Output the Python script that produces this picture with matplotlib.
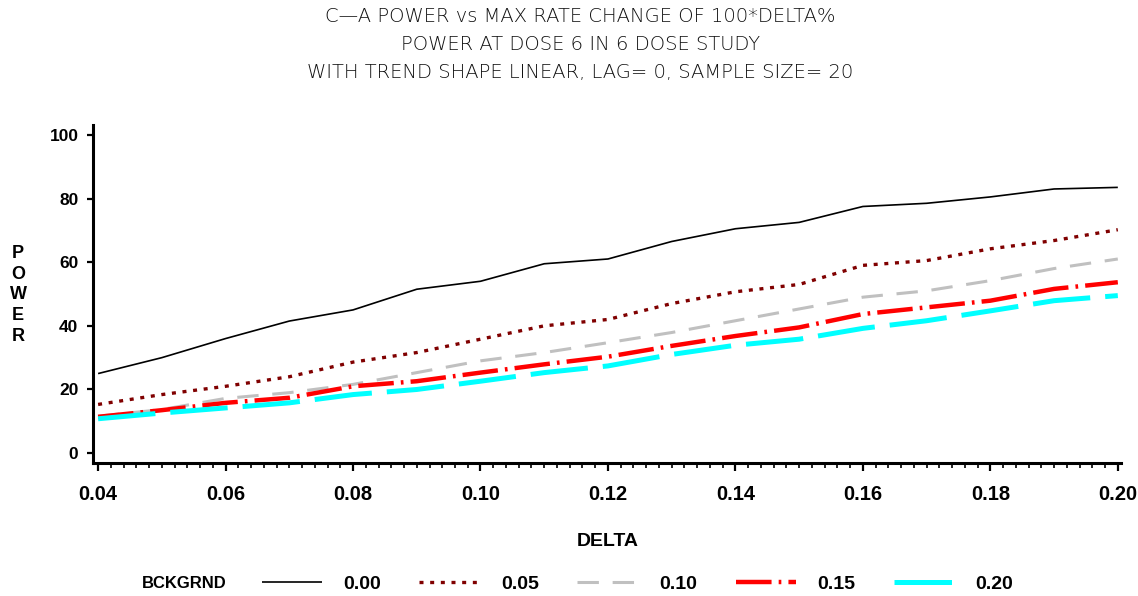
import matplotlib
matplotlib.use("Agg")
import matplotlib.pyplot as plt
from matplotlib.ticker import MultipleLocator, FormatStrFormatter

# Power curves by background rate
delta = [0.04, 0.05, 0.06, 0.07, 0.08, 0.09, 0.10, 0.11, 0.12,
         0.13, 0.14, 0.15, 0.16, 0.17, 0.18, 0.19, 0.20]
power_000 = [25, 30, 36, 41.5, 45, 51.5, 54, 59.5, 61, 66.5, 70.5, 72.5, 77.5, 78.5, 80.5, 83, 83.5]
power_005 = [15.3, 18.4, 21, 24, 28.6, 31.6, 35.8, 40, 42, 47, 50.7, 53, 59, 60.5, 64.2, 66.8, 70.2]
power_010 = [11.6, 13.7, 17.2, 19, 21.6, 25.3, 29, 31.6, 34.7, 37.9, 41.6, 45.3, 49, 51, 54.2, 58, 61]
power_015 = [11.4, 13.5, 15.8, 17.4, 21, 22.6, 25.3, 27.9, 30.3, 33.7, 36.8, 39.5, 43.7, 45.8, 47.9, 51.6, 53.7]
power_020 = [10.8, 12.6, 14.2, 15.8, 18.4, 20, 22.6, 25.3, 27.4, 31, 33.9, 35.8, 39.2, 41.6, 44.7, 47.9, 49.5]

bckgrnd = ["0.00", "0.05", "0.10", "0.15", "0.20"]
series = [power_000, power_005, power_010, power_015, power_020]
colors = ["#000000", "#800000", "#c0c0c0", "#ff0000", "#00ffff"]
widths = [1.2, 2.4, 2.2, 3.2, 3.6]
styles = [
    "-",
    (0, (1.2, 2.0)),
    (0, (7.0, 4.5)),
    (0, (8.0, 1.6, 0.6, 1.6)),
    (0, (11.5, 3.0)),
]

fig = plt.figure(figsize=(11.38, 5.96), dpi=100)
ax = fig.add_axes([93 / 1138, 133 / 596, 1028 / 1138, 338 / 596])

handles = []
for vals, c, lw, ls, lab in zip(series, colors, widths, styles, bckgrnd):
    line, = ax.plot(delta, vals, color=c, lw=lw, linestyle=ls, label=lab,
                    solid_capstyle="butt", dash_capstyle="butt")
    handles.append(line)

ax.set_xlim(0.0392, 0.2005)
ax.set_ylim(-3.1, 103.1)
ax.xaxis.set_major_locator(MultipleLocator(0.02))
ax.xaxis.set_minor_locator(MultipleLocator(0.002))
ax.xaxis.set_major_formatter(FormatStrFormatter("%.2f"))
ax.yaxis.set_major_locator(MultipleLocator(20))

for side in ["top", "right"]:
    ax.spines[side].set_visible(False)
for side in ["left", "bottom"]:
    ax.spines[side].set_linewidth(2.2)

ax.tick_params(axis="x", which="major", length=5.5, width=1.6, pad=10, labelsize=14.5)
ax.tick_params(axis="x", which="minor", length=3.5, width=1.2)
ax.tick_params(axis="y", which="major", length=4.5, width=1.6, pad=6, labelsize=12.5)
for lbl in ax.get_xticklabels() + ax.get_yticklabels():
    lbl.set_fontweight("bold")
    lbl.set_family("Liberation Sans")

# Titles
title_lines = [
    "C\u2014A POWER vs MAX RATE CHANGE OF 100*DELTA%",
    "POWER AT DOSE 6 IN 6 DOSE STUDY",
    "WITH TREND SHAPE LINEAR, LAG= 0, SAMPLE SIZE= 20",
]
for y, t in zip([1 - 17 / 596, 1 - 45 / 596, 1 - 73 / 596], title_lines):
    fig.text(0.51, y, t, ha="center", va="center", fontsize=14,
             family="DejaVu Sans", fontweight="light", color="#111111")

fig.text(608 / 1138, 1 - 541 / 596, "DELTA", ha="center", va="center",
         fontsize=14, fontweight="bold", family="Liberation Sans")
fig.text(18 / 1138, 1 - 295 / 596, "P\nO\nW\nE\nR", ha="center", va="center",
         fontsize=13, fontweight="bold", family="Liberation Sans", linespacing=1.3)

# Legend row
fig.text(142 / 1138, 1 - 584 / 596, "BCKGRND", ha="left", va="center",
         fontsize=12, fontweight="bold", family="Liberation Sans")
leg = fig.legend(handles=handles, labels=bckgrnd, ncol=5, loc="center left",
                 bbox_to_anchor=(244 / 1138, 1 - 584 / 596), frameon=False,
                 handlelength=3.1, handletextpad=1.1, columnspacing=1.98,
                 prop={"family": "Liberation Sans", "weight": "bold", "size": 14})

fig.savefig("out.png", dpi=100)
